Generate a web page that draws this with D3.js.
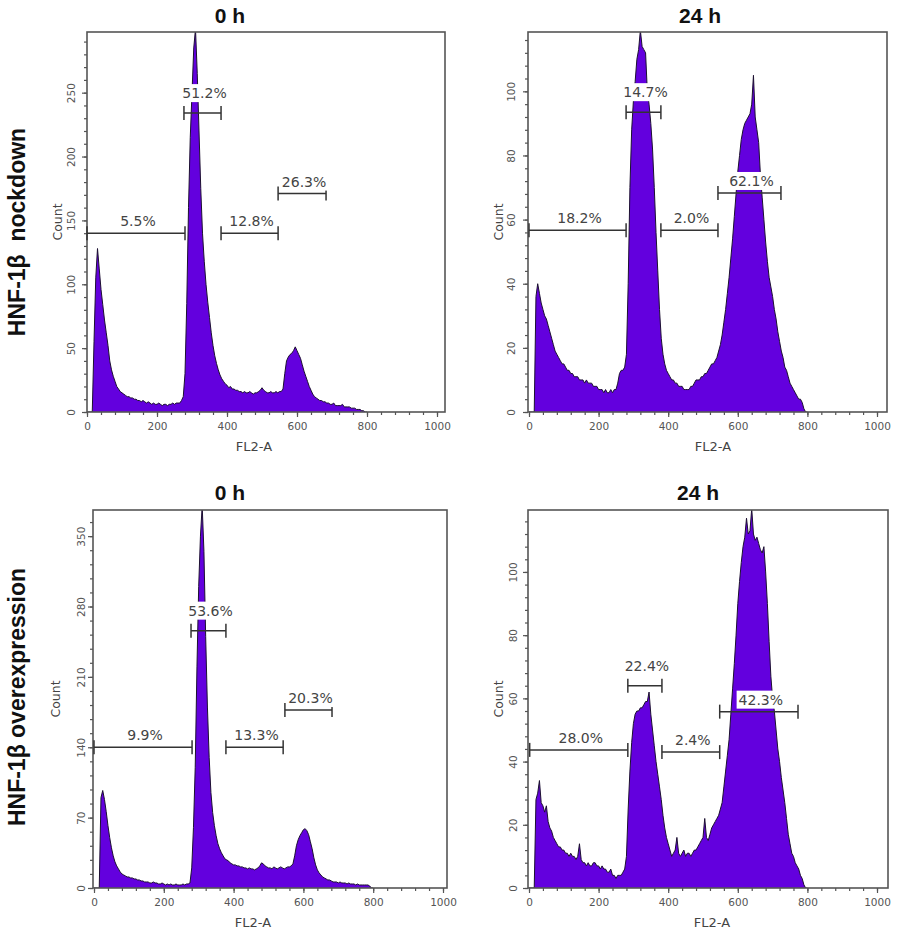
<!DOCTYPE html>
<html><head><meta charset="utf-8">
<script src="https://cdn.jsdelivr.net/npm/d3@7"></script>
<style>body{margin:0;background:#fff}</style>
</head><body>
<svg id="c" width="898" height="935" xmlns="http://www.w3.org/2000/svg"></svg>
<script>
// ---------- DATA ----------
const channelStep = 5; // FL2-A channel bins: 0, 5, 10, ... 800
const panelTitles = ["0 h", "24 h", "0 h", "24 h"];
const rowLabels = ["HNF-1β  nockdown", "HNF-1β overexpression"];
const xAxisLabel = "FL2-A";
const yAxisLabel = "Count";
const xTicks = [0, 200, 400, 600, 800, 1000];
const yTicksKd0h = [0, 50, 100, 150, 200, 250];
const yTicksKd24h = [0, 20, 40, 60, 80, 100];
const yTicksOe0h = [0, 70, 140, 210, 280, 350];
const yTicksOe24h = [0, 20, 40, 60, 80, 100];
const yMaxKd0h = 297.5, yMaxKd24h = 118.5, yMaxOe0h = 376, yMaxOe24h = 119.6;

const kd0h = [
0,0,0,0,55,105,128,112,96,84,72,62,52,40,33,28,24,20,18,16,
15,14,13,12,12,11,11,10,10,9,9,8,9,8,7,8,7,6,7,6,
6,7,6,5,6,6,5,6,6,7,6,7,7,7,9,12,30,85,160,215,
250,285,300,265,220,175,140,118,100,86,74,62,52,44,38,33,29,26,24,22,
21,19,20,18,18,17,17,16,16,15,16,15,15,16,15,14,15,15,16,17,
19,17,16,15,15,16,15,15,16,15,16,16,18,30,40,43,45,46,48,51,
48,45,42,37,32,28,24,20,17,14,12,11,10,9,9,8,8,7,7,6,
6,7,5,5,5,5,6,4,4,4,4,3,3,3,2,2,2,1,1,0,0];

const kd24h = [
0,0,0,0,36,40,37,34,32,30,29,27,25,23,21,19,18,17,16,15,
15,14,13,13,12,12,11,11,11,10,10,10,9,10,9,9,9,8,8,8,
7,7,7,6,7,6,6,7,6,7,7,9,12,13,13,14,18,40,70,88,
97,103,110,113,119,114,113,112,100,96,90,82,70,56,44,32,23,18,15,13,
12,11,10,10,9,9,8,8,8,7,7,7,7,8,8,9,10,10,10,11,
11,12,12,13,14,15,15,16,17,19,21,24,28,32,37,42,48,54,61,68,
75,80,85,88,90,91,92,93,96,105,92,88,84,74,67,60,53,47,42,39,
36,32,29,25,22,19,17,14,13,11,9,8,7,6,5,4,4,3,1,0,0];

const oe0h = [
0,0,0,0,90,97,88,76,62,50,40,32,26,22,19,16,14,13,12,11,
11,10,10,9,9,8,8,7,7,6,6,6,5,5,6,5,5,4,4,5,
4,3,4,3,4,3,3,4,3,3,3,4,3,4,4,5,20,60,120,220,
300,350,380,335,250,180,130,95,75,62,52,44,39,35,32,29,28,27,25,24,
23,23,22,22,21,21,20,20,19,20,19,19,18,19,20,22,25,24,22,21,
20,20,19,21,20,19,20,21,20,19,20,21,21,22,24,32,42,48,52,55,
58,59,57,53,46,39,30,23,18,15,13,11,10,9,8,8,7,6,6,6,
5,6,5,5,5,4,5,4,4,4,3,4,3,3,3,3,3,3,2,0,0];

const oe24h = [
0,0,0,0,28,30,34,27,26,24,26,21,19,18,16,15,14,13,13,12,
12,11,11,10,11,10,10,9,10,14,9,8,8,7,8,7,7,8,8,7,
7,6,7,6,6,5,5,6,4,4,3,4,4,4,5,6,10,25,37,46,
52,55,56,56,57,57,58,59,59,62,55,50,45,40,36,32,28,23,19,16,
14,12,10,11,12,16,11,10,11,12,10,11,11,10,11,12,12,13,14,15,
16,22,16,15,17,19,20,21,22,23,25,27,32,37,42,47,55,63,71,80,
90,97,103,108,111,117,112,113,120,112,110,111,109,107,106,108,100,90,78,67,
60,56,50,44,40,35,31,27,22,17,14,11,10,8,7,6,4,3,1,0,0];

// gates: [start channel, end channel, count level, label]
const gatesKd0h = [[0,280,140,"5.5%"],[277,383,234,"51.2%"],[383,546,140,"12.8%"],[546,683,171,"26.3%"]];
const gatesKd24h = [[0,279,56.7,"18.2%"],[279,379,93.5,"14.7%"],[379,543,56.7,"2.0%"],[543,724,68.3,"62.1%"]];
const gatesOe0h = [[0,281,140,"9.9%"],[278,378,256,"53.6%"],[378,542,140,"13.3%"],[547,682,177,"20.3%"]];
const gatesOe24h = [[2,284,43.7,"28.0%"],[284,382,64,"22.4%"],[382,548,43,"2.4%"],[548,773,55.8,"42.3%"]];

// ---------- LAYOUT ----------
const panels = [
  {title: panelTitles[0], data: kd0h, gates: gatesKd0h, yMax: yMaxKd0h, yTicks: yTicksKd0h,
   frame: {l: 87, t: 32, r: 445, b: 412}, xr: [87, 437], tickOff: 12, countOff: 25, xLabX: 254, titleX: 230, titleY: 23},
  {title: panelTitles[1], data: kd24h, gates: gatesKd24h, yMax: yMaxKd24h, yTicks: yTicksKd24h,
   frame: {l: 528, t: 32, r: 887, b: 412}, xr: [529, 877], tickOff: 13, countOff: 25, xLabX: 713, titleX: 700, titleY: 23},
  {title: panelTitles[2], data: oe0h, gates: gatesOe0h, yMax: yMaxOe0h, yTicks: yTicksOe0h,
   frame: {l: 93, t: 510, r: 447, b: 888}, xr: [94, 443], tickOff: 8, countOff: 33, xLabX: 253, titleX: 230, titleY: 500},
  {title: panelTitles[3], data: oe24h, gates: gatesOe24h, yMax: yMaxOe24h, yTicks: yTicksOe24h,
   frame: {l: 528, t: 510, r: 888, b: 888}, xr: [529, 877], tickOff: 11, countOff: 25, xLabX: 712, titleX: 698, titleY: 500}
];

const svg = d3.select("#c");
const FILL = "#6300de";
const AX = "#555";
const sans = "'DejaVu Sans', Verdana, sans-serif";
const boldSans = "'Liberation Sans', Arial, sans-serif";
const fmt = d3.format("d");

panels.forEach((p, i) => {
  const f = p.frame;
  const x = d3.scaleLinear().domain([0, 1000]).range(p.xr);
  const y = d3.scaleLinear().domain([0, p.yMax]).range([f.b, f.t]);
  const g = svg.append("g");

  const clipId = "clip" + i;
  svg.append("clipPath").attr("id", clipId).append("rect")
    .attr("x", f.l).attr("y", f.t).attr("width", f.r - f.l).attr("height", f.b - f.t);

  const pts = p.data.map((c, k) => ({ch: k * channelStep, c}));
  const area = d3.area().x(d => x(d.ch)).y0(y(0)).y1(d => y(d.c));
  const line = d3.line().x(d => x(d.ch)).y(d => y(d.c));
  const hg = g.append("g").attr("clip-path", `url(#${clipId})`);
  hg.append("path").datum(pts).attr("d", area).attr("fill", FILL);
  hg.append("path").datum(pts).attr("d", line).attr("fill", "none")
    .attr("stroke", "#1c1030").attr("stroke-width", 1).attr("stroke-linejoin", "round");

  // frame
  g.append("rect").attr("x", f.l).attr("y", f.t).attr("width", f.r - f.l).attr("height", f.b - f.t)
    .attr("fill", "none").attr("stroke", AX).attr("stroke-width", 1.6);

  // x axis: minor + major
  const xMinor = d3.range(0, 1001, 40);
  const xa = g.append("g").attr("transform", `translate(0,${f.b})`);
  xa.call(d3.axisBottom(x).tickValues(xMinor).tickSize(3).tickFormat(""));
  const xb = g.append("g").attr("transform", `translate(0,${f.b})`);
  xb.call(d3.axisBottom(x).tickValues(xTicks).tickSize(5).tickPadding(6).tickFormat(fmt));
  [xa, xb].forEach(a => { a.select(".domain").remove(); a.selectAll("line").attr("stroke", AX).attr("stroke-width", 1.2); });
  xb.selectAll("text").attr("font-family", sans).attr("font-size", 10.5).attr("fill", "#555");

  // y axis: minor + major
  const step = p.yTicks[1] / 5;
  const yMinor = d3.range(0, p.yMax + 0.001, step);
  const ya = g.append("g").attr("transform", `translate(${f.l},0)`);
  ya.call(d3.axisLeft(y).tickValues(yMinor).tickSize(3).tickFormat(""));
  const yb = g.append("g").attr("transform", `translate(${f.l},0)`);
  yb.call(d3.axisLeft(y).tickValues(p.yTicks).tickSize(5).tickFormat(fmt));
  [ya, yb].forEach(a => { a.select(".domain").remove(); a.selectAll("line").attr("stroke", AX).attr("stroke-width", 1.2); });
  yb.selectAll("text").attr("x", null).attr("dy", null)
    .attr("transform", `translate(${-p.tickOff},0) rotate(-90)`)
    .attr("text-anchor", "middle")
    .attr("font-family", sans).attr("font-size", 10.5).attr("fill", "#555");

  // axis titles
  g.append("text").attr("x", p.xLabX).attr("y", f.b + 39).attr("text-anchor", "middle")
    .attr("font-family", sans).attr("font-size", 13).attr("fill", "#444").text(xAxisLabel);
  g.append("text").attr("transform", `translate(${f.l - p.countOff},${(f.t + f.b) / 2}) rotate(-90)`)
    .attr("text-anchor", "middle").attr("font-family", sans).attr("font-size", 12.5).attr("fill", "#444").text(yAxisLabel);

  // panel title
  g.append("text").attr("x", p.titleX).attr("y", p.titleY).attr("text-anchor", "middle")
    .attr("font-family", boldSans).attr("font-weight", "bold").attr("font-size", 21).attr("fill", "#111").text(p.title);

  // gates
  const gg = g.append("g");
  p.gates.forEach(([a, b, lv, lab]) => {
    const x0 = x(a), x1 = x(b), yy = y(lv);
    gg.append("line").attr("x1", x0).attr("x2", x1).attr("y1", yy).attr("y2", yy)
      .attr("stroke", "#333").attr("stroke-width", 1.5);
    [x0, x1].forEach(xx => gg.append("line").attr("x1", xx).attr("x2", xx).attr("y1", yy - 7).attr("y2", yy + 7)
      .attr("stroke", "#333").attr("stroke-width", 1.5));
    const off = (b - a) < 120 ? 15 : 7;
    const t = gg.append("text").attr("x", (x0 + x1) / 2 + 2).attr("y", yy - off).attr("text-anchor", "middle")
      .attr("font-family", sans).attr("font-size", 14).attr("fill", "#444").text(lab);
    const bb = t.node().getBBox();
    gg.insert("rect", () => t.node()).attr("x", bb.x - 2).attr("y", bb.y - 1).attr("width", bb.width + 4)
      .attr("height", bb.height + 2).attr("fill", "#fff");
  });
});

// row labels
const rowY = [232, 697];
rowLabels.forEach((lab, r) => {
  svg.append("text").attr("transform", `translate(24.5,${rowY[r]}) rotate(-90)`)
    .attr("text-anchor", "middle").attr("font-family", boldSans).attr("font-weight", "bold")
    .attr("font-size", 23).attr("fill", "#111").style("white-space", "pre").text(lab);
});
</script>
</body></html>
